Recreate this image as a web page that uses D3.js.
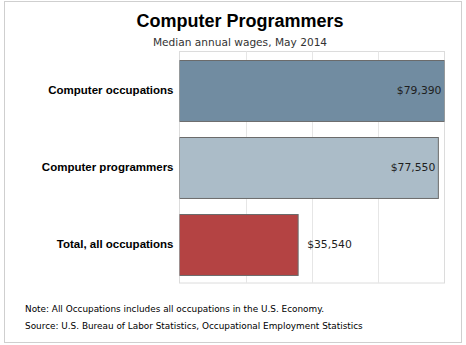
<!DOCTYPE html>
<html><head><meta charset="utf-8">
<script src="https://cdn.jsdelivr.net/npm/d3@7"></script>
<style>
body{margin:0;background:#fff;}
svg{display:block;}
</style></head>
<body>
<svg id="chart" width="466" height="345"></svg>
<script>
const categories = ["Computer occupations", "Computer programmers", "Total, all occupations"];
const values = [79390, 77550, 35540];
const valueLabels = ["$79,390", "$77,550", "$35,540"];
const barColors = ["#718ca1", "#abbcc8", "#b44343"];
const gridFractions = [0.25, 0.5, 0.75];
const title = "Computer Programmers";
const subtitle = "Median annual wages, May 2014";
const notes = ["Note: All Occupations includes all occupations in the U.S. Economy.",
               "Source: U.S. Bureau of Labor Statistics, Occupational Employment Statistics"];

const svg = d3.select("#chart");
// outer frame
svg.append("rect").attr("x", 4.5).attr("y", 1.5).attr("width", 457).attr("height", 341)
  .attr("fill", "#fff").attr("stroke", "#cfcfcf");

const plot = {left: 179.5, right: 444.5, top: 51.5, bottom: 283};
const maxV = d3.max(values);
const x = d3.scaleLinear().domain([0, maxV]).range([plot.left, plot.right]);
const y = d3.scaleBand().domain(categories).range([plot.top, plot.bottom]).paddingInner(0.21).paddingOuter(0.105);

// plot border
svg.append("rect").attr("x", plot.left).attr("y", plot.top)
  .attr("width", plot.right - plot.left).attr("height", plot.bottom - plot.top)
  .attr("fill", "none").attr("stroke", "#dcdcdc");

// gridlines
svg.append("g").selectAll("line").data(gridFractions.map(f => f * maxV)).join("line")
  .attr("x1", d => Math.round(x(d)) + 0.5).attr("x2", d => Math.round(x(d)) + 0.5)
  .attr("y1", plot.top).attr("y2", plot.bottom)
  .attr("stroke", "#e6e6e6");

// bars
svg.append("clipPath").attr("id", "pc").append("rect")
  .attr("x", plot.left).attr("y", plot.top).attr("width", plot.right - plot.left).attr("height", plot.bottom - plot.top);
svg.append("g").attr("clip-path", "url(#pc)").selectAll("rect").data(values).join("rect")
  .attr("x", x(0))
  .attr("y", (d, i) => Math.round(y(categories[i])) + 0.5)
  .attr("width", d => x(d) - x(0))
  .attr("height", y.bandwidth())
  .attr("fill", (d, i) => barColors[i])
  .attr("stroke", "#6b6b6b").attr("stroke-width", 1);

// value labels
svg.append("g").selectAll("text").data(values).join("text")
  .attr("x", (d, i) => i < 2 ? x(d) - 3 : x(d) + 9)
  .attr("y", (d, i) => y(categories[i]) + y.bandwidth() / 2)
  .attr("dy", "0.36em")
  .attr("text-anchor", (d, i) => i < 2 ? "end" : "start")
  .style("font-family", "DejaVu Sans, Verdana, sans-serif")
  .style("font-size", "10.8px")
  .attr("fill", "#1e1e1e")
  .text((d, i) => valueLabels[i]);

// category axis labels
const yAxis = d3.axisLeft(y).tickSize(0).tickPadding(6);
const ga = svg.append("g").attr("transform", `translate(${plot.left},0)`).call(yAxis);
ga.select(".domain").remove();
ga.selectAll("text")
  .style("font-family", "Liberation Sans, Arial, sans-serif")
  .style("font-weight", "bold")
  .style("font-size", "11.5px")
  .attr("fill", "#000");

// title
svg.append("text").attr("x", 240).attr("y", 27).attr("text-anchor", "middle")
  .style("font-family", "Liberation Sans, Arial, sans-serif").style("font-weight", "bold")
  .style("font-size", "18px").attr("fill", "#000").text(title);
svg.append("text").attr("x", 240).attr("y", 46).attr("text-anchor", "middle")
  .style("font-family", "DejaVu Sans, Verdana, sans-serif")
  .style("font-size", "10.6px").attr("fill", "#333").text(subtitle);

// notes
svg.append("g").selectAll("text").data(notes).join("text")
  .attr("x", 25).attr("y", (d, i) => 312 + i * 16.5)
  .style("font-family", "DejaVu Sans, Verdana, sans-serif")
  .style("font-size", "8.9px").attr("fill", "#000").text(d => d);
</script>
</body></html>
